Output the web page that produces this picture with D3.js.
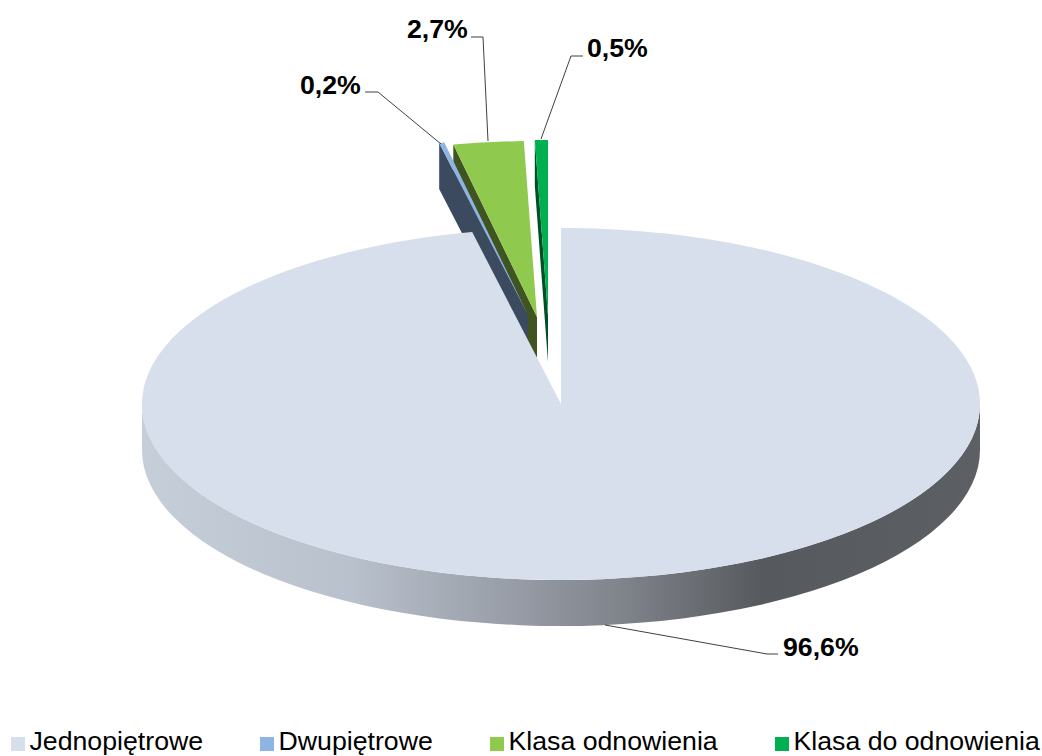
<!DOCTYPE html>
<html>
<head>
<meta charset="utf-8">
<script src="https://cdn.jsdelivr.net/npm/d3@7"></script>
<style>
    html, body { margin: 0; padding: 0; background: #fff; }
    svg { display: block; }
    text { font-family: "Liberation Sans", Arial, sans-serif; fill: #000; }
</style>
</head>
<body>
<div id="chart"></div>
<script>
//data
var categories = ["Jednopiętrowe", "Dwupiętrowe", "Klasa odnowienia", "Klasa do odnowienia"];
var shares = [96.6, 0.2, 2.7, 0.5];

//colors, same order as categories
var topColors = ["#d6dfeb", "#8eb4e3", "#8fca4f", "#00b050"];
var sideColors = ["#8a8f96", "#3b4a5f", "#3f5420", "#004f26"];

var width = 1042, height = 756;
var cx = 561, cy = 404, rx = 419, ry = 176, depth = 46;

//how far each slice was pulled out of the pie
var pullOut = [[0, 0], [-33, -89], [-24, -87], [-13, -88]];

//leader lines and label spots
var leaders = [
    [[605, 625], [767, 654], [778, 654]],
    [[441, 144], [378, 92], [365, 92]],
    [[488, 141], [483, 37], [471, 37]],
    [[541, 139], [571, 56], [583, 56]]
];
var labelSpots = [[783, 656], [300, 94], [407, 38], [587, 57]];
var legendSpots = [11, 260, 490, 775];

var svg = d3.select("#chart").append("svg")
        .attr("width", width)
        .attr("height", height);

//shading of the round side, coordinates are local to the slice group
var grad = svg.append("defs").append("linearGradient")
        .attr("id", "sideGrad")
        .attr("gradientUnits", "userSpaceOnUse")
        .attr("x1", -rx).attr("x2", rx)
        .attr("y1", 0).attr("y2", 0);
[[0, "#c5ced9"], [0.25, "#b9c1cc"], [0.45, "#969ba5"], [0.58, "#7e8289"], [0.74, "#56595d"], [1, "#5c5f64"]]
        .forEach(function (s) {
            grad.append("stop").attr("offset", s[0]).attr("stop-color", s[1]);
        });

var slices = d3.pie().sort(null).startAngle(0).endAngle(2 * Math.PI)(shares);
var arc = d3.arc().innerRadius(0).outerRadius(rx);
var line = d3.line();

function onRim(angle) {
    return [rx * Math.sin(angle), -ry * Math.cos(angle)];
}

//small slices first, the big one has to sit on top of their sides
//the thin blue one lies over the side of the green one
var order = [2, 3, 1, 0];
order.forEach(function (i) {
    var d = slices[i];
    var g = svg.append("g")
            .attr("transform", "translate(" + (cx + pullOut[i][0]) + "," + (cy + pullOut[i][1]) + ")");

    if (i === 0) {
        //round side, only the front half shows
        g.append("path")
                .attr("d", "M" + rx + ",0 A" + rx + "," + ry + " 0 0 1 " + (-rx) + ",0" +
                        " L" + (-rx) + "," + depth +
                        " A" + rx + "," + ry + " 0 0 0 " + rx + "," + depth + " Z")
                .attr("fill", "url(#sideGrad)");
    } else {
        //cut face on the left edge of the slice
        var p = onRim(d.startAngle);
        g.append("path")
                .attr("d", line([[0, 0], p, [p[0], p[1] + depth], [0, depth]]) + "Z")
                .attr("fill", sideColors[i]);
    }

    g.append("path")
            .attr("transform", "scale(1," + (ry / rx) + ")")
            .attr("d", arc(d))
            .attr("fill", topColors[i]);
});

//leader lines
svg.selectAll(".leader").data(leaders).enter().append("path")
        .attr("class", "leader")
        .attr("d", function (d) { return line(d); })
        .attr("fill", "none")
        .attr("stroke", "#404040")
        .attr("stroke-width", 1);

//value labels
svg.selectAll(".value").data(shares).enter().append("text")
        .attr("class", "value")
        .attr("x", function (d, i) { return labelSpots[i][0]; })
        .attr("y", function (d, i) { return labelSpots[i][1]; })
        .attr("font-size", 26.7)
        .attr("font-weight", "bold")
        .text(function (d) { return d.toFixed(1).replace(".", ",") + "%"; });

//legend
var legend = svg.selectAll(".legend").data(categories).enter().append("g")
        .attr("class", "legend")
        .attr("transform", function (d, i) { return "translate(" + legendSpots[i] + ",737)"; });

legend.append("rect")
        .attr("width", 14)
        .attr("height", 14)
        .attr("fill", function (d, i) { return topColors[i]; });

legend.append("text")
        .attr("x", 18.5)
        .attr("y", 13)
        .attr("font-size", 26.7)
        .text(function (d) { return d; });
</script>
</body>
</html>
